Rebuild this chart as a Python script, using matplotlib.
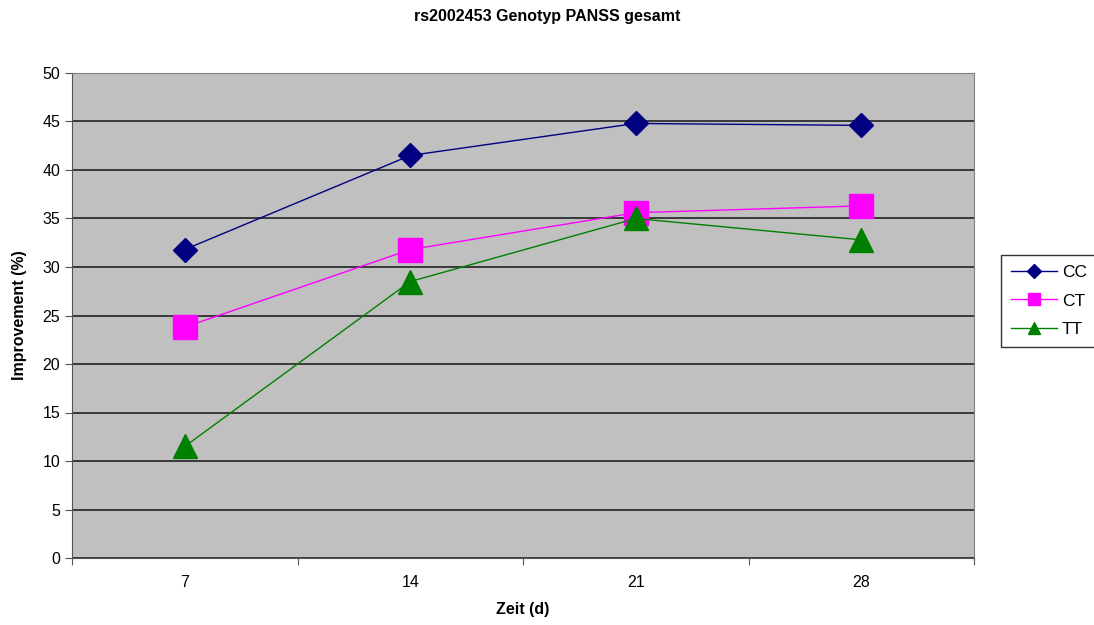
import matplotlib.pyplot as plt

plt.rcParams['font.family'] = ['Liberation Sans', 'DejaVu Sans']

days = ['7', '14', '21', '28']
cc = [31.8, 41.5, 44.8, 44.6]
ct = [23.8, 31.8, 35.6, 36.3]
tt = [11.5, 28.5, 35.0, 32.8]

fig = plt.figure(figsize=(10.94, 6.25), dpi=100)
ax = fig.add_axes([72 / 1094, 67 / 625, 902 / 1094, 485 / 625])
ax.set_facecolor('#c0c0c0')

x = list(range(len(days)))
ax.plot(x, cc, color='#000080', lw=1, marker='D', ms=12.5, mec='#000080', label='CC', zorder=3)
ax.plot(x, ct, color='#ff00ff', lw=1, marker='s', ms=17, mec='#ff00ff', label='CT', zorder=3)
ax.plot(x, tt, color='#008000', lw=1, marker='^', ms=17, mec='#008000', label='TT', zorder=3)

ax.set_xlim(-0.5, len(days) - 0.5)
ax.set_ylim(0, 50)
ax.set_yticks(range(0, 51, 5))
ax.yaxis.grid(True, color='#222222', lw=1.2)
ax.set_axisbelow(True)

# category labels centred, tick marks between categories
ax.set_xticks([i - 0.5 for i in range(len(days) + 1)])
ax.set_xticklabels([])
ax.set_xticks(x, minor=True)
ax.set_xticklabels(days, minor=True)
ax.tick_params(axis='x', which='minor', length=0, pad=12, labelsize=11.5)
ax.tick_params(axis='x', which='major', length=5, direction='out', color='#555555')
ax.tick_params(axis='y', length=5, direction='out', labelsize=11.5, color='#555555')

for side in ['top', 'right']:
    ax.spines[side].set_color('#808080')
ax.spines['left'].set_color('#555555')
ax.spines['bottom'].set_color('#555555')

ax.set_xlabel('Zeit (d)', fontsize=11.5, fontweight='bold', labelpad=9)
ax.set_ylabel('Improvement (%)', fontsize=11.5, fontweight='bold', labelpad=11)
fig.text(0.5, 1 - 17 / 625, 'rs2002453 Genotyp PANSS gesamt', ha='center', va='center',
         fontsize=11.5, fontweight='bold')

leg = fig.legend(loc='center left', bbox_to_anchor=(1001 / 1094, 1 - 301 / 625),
                 fontsize=12.5, frameon=True, fancybox=False, edgecolor='black',
                 borderpad=0.6, labelspacing=0.75, handlelength=2.6, handletextpad=0.3,
                 markerscale=0.55, borderaxespad=0)
leg.get_frame().set_linewidth(1)

fig.savefig('out.png', dpi=100)
